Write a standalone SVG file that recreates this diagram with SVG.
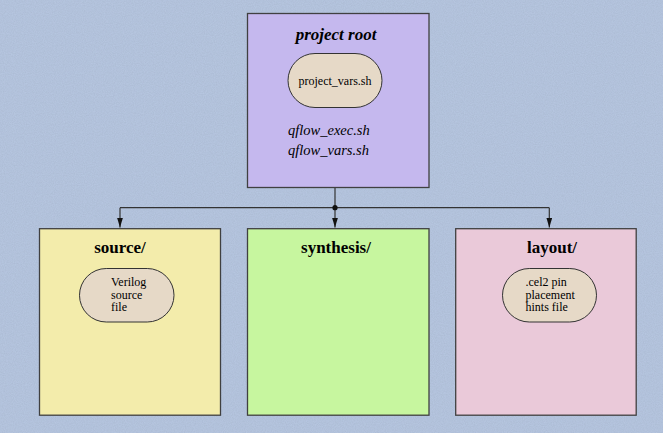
<svg xmlns="http://www.w3.org/2000/svg" width="663" height="433" viewBox="0 0 663 433">
  <style>
    .box { stroke: #404040; stroke-width: 1.3; }
    .pill { fill: #e6d9c7; stroke: #333; stroke-width: 1; }
    .title { font-family: "Liberation Serif", "Times New Roman", serif; font-weight: bold; font-size: 17px; fill: #000; text-anchor: middle; }
    .small { font-family: "Liberation Serif", "Times New Roman", serif; font-size: 12px; fill: #000; }
    .ital { font-family: "Liberation Serif", "Times New Roman", serif; font-style: italic; font-size: 14.5px; fill: #000; }
    .edge { stroke: #333; stroke-width: 1.2; fill: none; }
  </style>
  <defs>
    <marker id="arr" viewBox="0 0 10 6" refX="10" refY="3" markerWidth="10" markerHeight="6" markerUnits="userSpaceOnUse" orient="auto">
      <path d="M0,0 L10,3 L0,6 Z" fill="#111"/>
    </marker>
    <filter id="tex" x="0" y="0" width="100%" height="100%">
      <feTurbulence type="fractalNoise" baseFrequency="0.9" numOctaves="2" seed="3" result="n"/>
      <feColorMatrix in="n" type="matrix" values="0 0 0 0 0.35  0 0 0 0 0.42  0 0 0 0 0.55  0 0 0 0.6 -0.1" result="c"/>
      <feComposite in="c" in2="SourceGraphic" operator="in"/>
    </filter>
  </defs>
  <rect x="0" y="0" width="663" height="433" fill="#b6c6e0"/>
  <rect x="0" y="0" width="663" height="433" fill="#b6c6e0" filter="url(#tex)" opacity="0.9"/>

  <g id="connectors">
    <path class="edge" d="M335,187.5 V207.7"/>
    <path class="edge" d="M120,207.7 H549.3"/>
    <path class="edge" d="M120,207.7 V227.5" marker-end="url(#arr)"/>
    <path class="edge" d="M335,207.7 V227.5" marker-end="url(#arr)"/>
    <path class="edge" d="M549.3,207.7 V227.5" marker-end="url(#arr)"/>
    <circle cx="335" cy="207.7" r="2.6" fill="#111"/>
  </g>

  <g id="project-root">
    <rect class="box" x="247.5" y="13.5" width="181.5" height="174" fill="#c5b8ee"/>
    <text class="title" x="336" y="40" font-style="italic">project root</text>
    <g id="project-vars">
      <rect class="pill" x="288" y="53.5" width="94" height="54" rx="27" ry="27"/>
      <text class="small" x="335" y="85" text-anchor="middle">project_vars.sh</text>
    </g>
    <text class="ital" x="288" y="134.5">qflow_exec.sh</text>
    <text class="ital" x="288" y="154.5">qflow_vars.sh</text>
  </g>

  <g id="source">
    <rect class="box" x="39.5" y="228.7" width="181" height="186.5" fill="#f3ecab"/>
    <text class="title" x="120" y="253">source/</text>
    <g id="verilog-file">
      <rect class="pill" x="79.5" y="268.5" width="94.5" height="53.5" rx="26.75" ry="26.75"/>
      <text class="small" x="111" y="286">Verilog</text>
      <text class="small" x="111" y="298.5">source</text>
      <text class="small" x="111" y="311">file</text>
    </g>
  </g>

  <g id="synthesis">
    <rect class="box" x="247.5" y="228.7" width="181.5" height="186.5" fill="#c7f69f"/>
    <text class="title" x="336" y="253">synthesis/</text>
  </g>

  <g id="layout">
    <rect class="box" x="455.7" y="228.7" width="180.5" height="186.5" fill="#eac9d9"/>
    <text class="title" x="552" y="253">layout/</text>
    <g id="cel2-file">
      <rect class="pill" x="502.5" y="268.5" width="94" height="53.5" rx="26.75" ry="26.75"/>
      <text class="small" x="525.5" y="286">.cel2 pin</text>
      <text class="small" x="525.5" y="298.5">placement</text>
      <text class="small" x="525.5" y="311">hints file</text>
    </g>
  </g>
</svg>
